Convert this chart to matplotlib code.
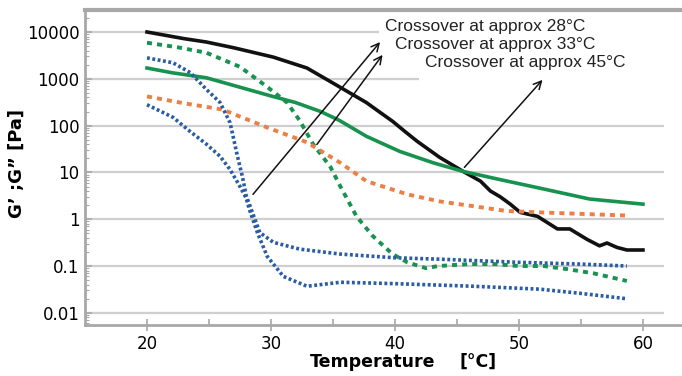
import numpy as np
import matplotlib
matplotlib.use("Agg")
import matplotlib.pyplot as plt
from matplotlib.ticker import FixedLocator, LogLocator, NullFormatter

# temperature sweeps, values in Pa
T_black = [20, 23, 24.8, 27, 30.2, 32.9, 34.8, 37.7, 38.7, 39.8, 40.8, 41.8, 43.6, 45.5,
           46.9, 47.7, 48.5, 49.3, 50.1, 51.5, 53.1, 54.1, 55.5, 56.5, 57.1, 57.9, 58.7, 60]
G_black = [10000, 7200, 6100, 4600, 2900, 1700, 870, 310, 200, 124, 75, 46, 21, 10.5,
           6.5, 4, 3, 2.1, 1.4, 1.15, 0.62, 0.62, 0.37, 0.27, 0.31, 0.25, 0.22, 0.22]

T_green = [20, 22, 24.8, 27, 30, 32, 34, 35.5, 37.7, 40.4, 43.1, 45.5, 48.5, 51.7, 55.7, 60]
G_green = [1700, 1350, 1050, 720, 430, 310, 200, 130, 59, 28, 16, 10.5, 7, 4.6, 2.7, 2.1]

T_green_d = [20, 22.5, 24.8, 27.5, 29.7, 31.3, 32.3, 33.4, 34.8, 35.6, 36.9, 38.2, 39.8, 41,
             42.5, 43.5, 46, 48, 50, 52, 54, 56, 58.7]
G_green_d = [5900, 4700, 3600, 1800, 670, 310, 130, 40, 13, 5, 1.15, 0.44, 0.18, 0.12,
             0.09, 0.1, 0.11, 0.11, 0.1, 0.1, 0.085, 0.07, 0.048]

T_orange = [20, 23, 26.1, 29.7, 32.9, 35.6, 37.7, 41, 43.6, 46.3, 49, 51.7, 55, 58.7]
G_orange = [420, 300, 220, 91, 44, 16, 6.5, 3.4, 2.4, 1.9, 1.5, 1.4, 1.3, 1.2]

T_blue_hi = [20, 22.1, 23.5, 24.8, 25.9, 26.7, 27.3, 27.7, 28.0, 28.5, 29.1, 30.2, 32.3,
             35.6, 40, 43.6, 50, 55, 58.7]
G_blue_hi = [2800, 2200, 1350, 590, 310, 115, 22, 8, 3.2, 1.4, 0.52, 0.32, 0.23,
             0.18, 0.15, 0.14, 0.12, 0.11, 0.1]

T_blue_lo = [20, 22.1, 23.5, 24.8, 25.9, 26.7, 27.5, 28.0, 28.3, 28.9, 29.7, 31, 32.9,
             35.6, 40, 46.3, 51.7, 55, 58.7]
G_blue_lo = [280, 150, 74, 40, 22, 11.5, 5, 2.8, 1.5, 0.52, 0.16, 0.06, 0.037,
             0.045, 0.042, 0.037, 0.032, 0.026, 0.02]

y_ticks = [0.01, 0.1, 1, 10, 100, 1000, 10000]
y_labels = ["0.01", "0.1", "1", "10", "100", "1000", "10000"]
x_ticks = [20, 30, 40, 50, 60]

notes = ["Crossover at approx 28°C", "Crossover at approx 33°C", "Crossover at approx 45°C"]
note_xy = [(39.2, 12800), (40.0, 5300), (42.4, 2200)]
arrow_tail = [(28.55, 3.4), (33.7, 39.5), (45.6, 12.8)]
arrow_head = [(38.8, 6100), (39.0, 3250), (51.9, 950)]

GREY = "#a8a8a8"

fig = plt.figure(figsize=(6.82, 3.76), dpi=100)
ax = fig.add_axes([85 / 682, 1 - 325 / 376, 1 - 85 / 682, (325 - 10) / 376])
ax.set_yscale("log")
ax.set_xlim(15, 63.15)
ax.set_ylim(10 ** -2.26, 10 ** 4.47)

# horizontal grid; the two top lines stop where the notes begin
grid_end = [61.7, 61.7, 61.7, 61.7, 61.7, 41.9, 38.7]
ax.hlines(y_ticks, 15, grid_end, color="#cfcfcf", lw=1.6, zorder=1)

ax.plot(T_black, G_black, color="#111111", lw=2.6, zorder=4)
ax.plot(T_green, G_green, color="#17924f", lw=2.6, zorder=4)
ax.plot(T_green_d, G_green_d, color="#17924f", lw=2.8, dashes=(1.3, 1.3), zorder=4)
ax.plot(T_orange, G_orange, color="#ec7f45", lw=2.8, dashes=(1.3, 1.3), zorder=4)
ax.plot(T_blue_hi, G_blue_hi, color="#2a5ca5", lw=2.6, dashes=(0.8, 0.7), zorder=4)
ax.plot(T_blue_lo, G_blue_lo, color="#2a5ca5", lw=2.6, dashes=(0.8, 0.7), zorder=4)

for txt, xy in zip(notes, note_xy):
    ax.text(xy[0], xy[1], txt, fontsize=12.5, family="Liberation Sans", va="center",
            ha="left", color="#222222", zorder=3)

for tail, head in zip(arrow_tail, arrow_head):
    ax.annotate("", xy=head, xytext=tail, zorder=6,
                arrowprops=dict(arrowstyle="->", color="#111111", lw=1.1,
                                mutation_scale=14, shrinkA=0, shrinkB=0))

ax.spines["right"].set_visible(False)
ax.spines["left"].set_color(GREY)
ax.spines["left"].set_linewidth(2)
ax.spines["bottom"].set_color(GREY)
ax.spines["bottom"].set_linewidth(2)
ax.spines["top"].set_color(GREY)
ax.spines["top"].set_linewidth(3)

ax.yaxis.set_major_locator(FixedLocator(y_ticks))
ax.set_yticklabels(y_labels)
ax.yaxis.set_minor_locator(LogLocator(base=10, subs=np.arange(2, 10), numticks=20))
ax.yaxis.set_minor_formatter(NullFormatter())
ax.tick_params(axis="y", which="major", direction="in", length=5, width=1.2,
               color=GREY, labelsize=12, pad=4)
ax.tick_params(axis="y", which="minor", direction="in", length=3, width=0.8, color=GREY)

ax.set_xticks(x_ticks)
ax.set_xticks([25, 35, 45, 55], minor=True)
ax.tick_params(axis="x", which="major", direction="inout", length=8, width=1.2,
               color=GREY, labelsize=12, pad=3)
ax.tick_params(axis="x", which="minor", direction="in", length=4, width=1.2, color=GREY)
ax.tick_params(top=False, right=False, which="both")

fig.text(310 / 682, 1 - 362 / 376, "Temperature", fontsize=12.5, fontweight="bold",
         va="center", ha="left")
fig.text(460 / 682, 1 - 362 / 376, "[°C]", fontsize=12.5, fontweight="bold",
         va="center", ha="left")
fig.text(17 / 682, 1 - 163 / 376, "G’ ;G” [Pa]", fontsize=13, fontweight="bold",
         rotation=90, va="center", ha="center")

fig.savefig("out.png", dpi=100)
